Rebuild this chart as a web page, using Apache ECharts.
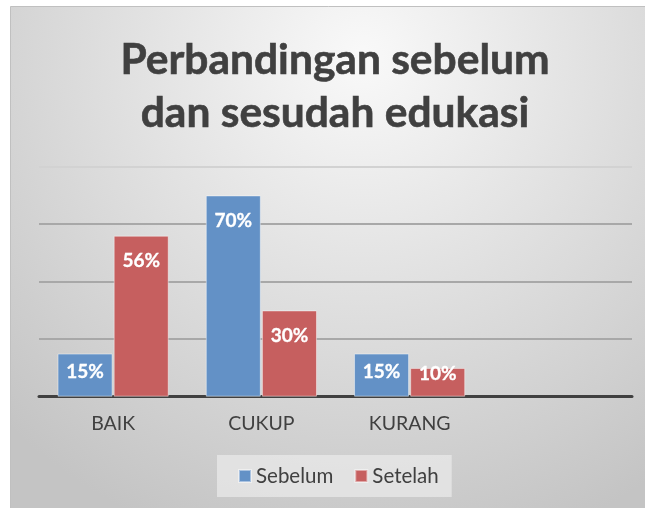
<!DOCTYPE html>
<html>
<head>
<meta charset="utf-8">
<script src="https://cdn.jsdelivr.net/npm/echarts@6/dist/echarts.min.js"></script>
<style>
html,body{margin:0;padding:0;background:#fff;}
#chart{width:645px;height:508px;}
</style>
</head>
<body>
<div id="chart"></div>
<script>
var categories = ['BAIK', 'CUKUP', 'KURANG', ''];
var sebelum = [15, 70, 15, null];
var setelah = [56, 30, 10, null];
var seriesNames = ['Sebelum', 'Setelah'];
var titleLines = ['Perbandingan sebelum', 'dan sesudah edukasi'];
var yTicks = [0, 20, 40, 60, 80];

var FONT = 'Lato, "Open Sans", sans-serif';

function labelDistance(v) {
  if (v >= 20) return 16;
  if (v >= 15) return 9;
  return -4;
}
function buildData(arr) {
  return arr.map(function (v) {
    if (v == null) return null;
    return { value: v, label: { distance: labelDistance(v) } };
  });
}

var chart = echarts.init(document.getElementById('chart'), null, { renderer: 'canvas' });
chart.setOption({
  animation: false,
  backgroundColor: '#ffffff',
  graphic: [{
    type: 'rect',
    z: -10,
    shape: { x: 10.5, y: 6.5, width: 640, height: 510 },
    style: {
      fill: {
        type: 'radial', x: 0.55, y: 0.1, r: 1.0,
        colorStops: [{ offset: 0, color: '#f9f9f9' }, { offset: 1, color: '#c4c4c4' }]
      },
      stroke: '#c0c0c0', lineWidth: 1
    }
  }],
  title: {
    text: titleLines.join('\n'),
    left: 335,
    top: 34,
    padding: 0,
    textAlign: 'center',
    textStyle: { fontFamily: FONT, fontWeight: 'bold', fontSize: 42.5, lineHeight: 53, color: '#404040', textBorderColor: '#404040', textBorderWidth: 0.6 }
  },
  legend: {
    data: seriesNames,
    left: 217,
    top: 455,
    padding: [10, 13, 10, 21],
    backgroundColor: 'rgba(235,235,235,0.7)',
    icon: 'rect',
    itemWidth: 12,
    itemHeight: 12,
    itemGap: 21,
    textStyle: { fontFamily: FONT, fontSize: 20.5, lineHeight: 22, color: '#404040' }
  },
  grid: { left: 39, right: 13, top: 166.7, bottom: 111.3, containLabel: false },
  xAxis: {
    type: 'category',
    data: categories,
    axisLine: { lineStyle: { color: '#404040', width: 3 } },
    axisTick: { show: false },
    axisLabel: { fontFamily: FONT, fontSize: 19.5, color: '#404040', margin: 17 }
  },
  yAxis: {
    type: 'value',
    min: yTicks[0],
    max: yTicks[yTicks.length - 1],
    interval: yTicks[1] - yTicks[0],
    axisLabel: { show: false },
    axisLine: { show: false },
    axisTick: { show: false },
    splitLine: { lineStyle: { color: ['#a8a8a8', '#a8a8a8', '#a8a8a8', '#a8a8a8', '#d2d2d2'], width: 2 } }
  },
  series: [{
    name: seriesNames[0],
    type: 'bar',
    data: buildData(sebelum),
    barCategoryGap: '25%',
    barGap: '2%',
    itemStyle: { color: '#6391c6', borderColor: 'rgba(255,255,255,0.45)', borderWidth: 1 },
    label: { show: true, position: 'insideTop', formatter: '{c}%', fontFamily: FONT, fontWeight: 'bold', fontSize: 19, color: '#ffffff', textBorderColor: '#ffffff', textBorderWidth: 0.3 }
  }, {
    name: seriesNames[1],
    type: 'bar',
    data: buildData(setelah),
    itemStyle: { color: '#c65f5f', borderColor: 'rgba(255,255,255,0.45)', borderWidth: 1 },
    label: { show: true, position: 'insideTop', formatter: '{c}%', fontFamily: FONT, fontWeight: 'bold', fontSize: 19, color: '#ffffff', textBorderColor: '#ffffff', textBorderWidth: 0.3 }
  }]
});
</script>
</body>
</html>
